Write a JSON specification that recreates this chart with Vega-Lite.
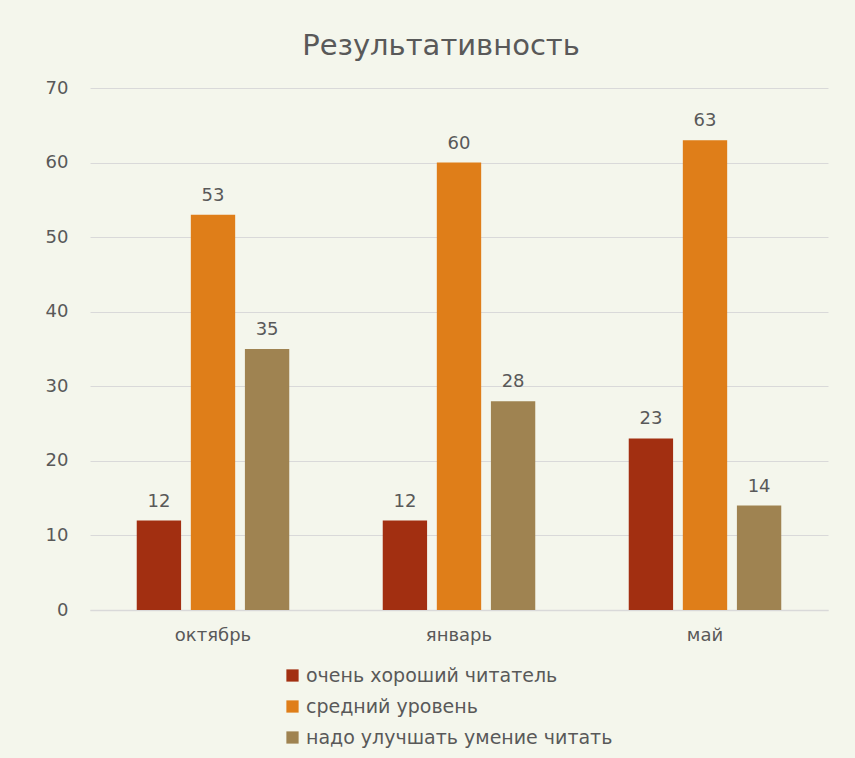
{
  "$schema": "https://vega.github.io/schema/vega-lite/v6.json",
  "width": 738,
  "height": 522,
  "autosize": {"type": "none"},
  "padding": {"left": 90, "top": 88, "right": 27, "bottom": 148},
  "background": "#f4f6ec",
  "config": {"view": {"stroke": null}},
  "title": {
    "text": "Результативность",
    "fontSize": 29,
    "font": "DejaVu Sans",
    "fontWeight": "normal",
    "color": "#595959",
    "anchor": "middle",
    "dx": -18,
    "offset": 18
  },
  "data": {
    "values": [
      {"month": "октябрь", "series": "очень хороший читатель", "value": 12},
      {"month": "октябрь", "series": "средний уровень", "value": 53},
      {"month": "октябрь", "series": "надо улучшать умение читать", "value": 35},
      {"month": "январь", "series": "очень хороший читатель", "value": 12},
      {"month": "январь", "series": "средний уровень", "value": 60},
      {"month": "январь", "series": "надо улучшать умение читать", "value": 28},
      {"month": "май", "series": "очень хороший читатель", "value": 23},
      {"month": "май", "series": "средний уровень", "value": 63},
      {"month": "май", "series": "надо улучшать умение читать", "value": 14}
    ]
  },
  "encoding": {
    "x": {
      "field": "month",
      "type": "nominal",
      "sort": ["октябрь", "январь", "май"],
      "scale": {"paddingInner": 0.38, "paddingOuter": 0.19},
      "axis": {
        "title": null,
        "labelAngle": 0,
        "labelFontSize": 18,
        "labelFont": "DejaVu Sans",
        "labelColor": "#595959",
        "labelPadding": 16,
        "ticks": false,
        "domainColor": "#d9d9d9",
        "domainWidth": 1.5
      }
    },
    "xOffset": {
      "field": "series",
      "type": "nominal",
      "sort": ["очень хороший читатель", "средний уровень", "надо улучшать умение читать"],
      "scale": {"paddingInner": 0.18, "paddingOuter": 0}
    },
    "y": {
      "field": "value",
      "type": "quantitative",
      "scale": {"domain": [0, 70]},
      "axis": {
        "title": null,
        "values": [0, 10, 20, 30, 40, 50, 60, 70],
        "labelFontSize": 18,
        "labelFont": "DejaVu Sans",
        "labelColor": "#595959",
        "labelPadding": 22,
        "ticks": false,
        "domain": false,
        "gridColor": "#d9d9d9",
        "gridWidth": 1.2
      }
    }
  },
  "layer": [
    {
      "mark": {"type": "bar"},
      "encoding": {
        "color": {
          "field": "series",
          "type": "nominal",
          "sort": ["очень хороший читатель", "средний уровень", "надо улучшать умение читать"],
          "scale": {
            "domain": ["очень хороший читатель", "средний уровень", "надо улучшать умение читать"],
            "range": ["#a22f11", "#df7e19", "#9f8351"]
          },
          "legend": {
            "title": null,
            "orient": "none",
            "legendX": 193,
            "legendY": 578,
            "direction": "vertical",
            "symbolType": "square",
            "symbolSize": 150,
            "symbolStrokeWidth": 0,
            "labelFontSize": 19,
            "labelFont": "DejaVu Sans",
            "labelColor": "#595959",
            "rowPadding": 11,
            "labelOffset": 4,
            "labelLimit": 400
          }
        }
      }
    },
    {
      "mark": {
        "type": "text",
        "baseline": "bottom",
        "dy": -10,
        "fontSize": 18,
        "font": "DejaVu Sans",
        "color": "#595959"
      },
      "encoding": {
        "text": {"field": "value", "type": "quantitative"}
      }
    }
  ]
}
